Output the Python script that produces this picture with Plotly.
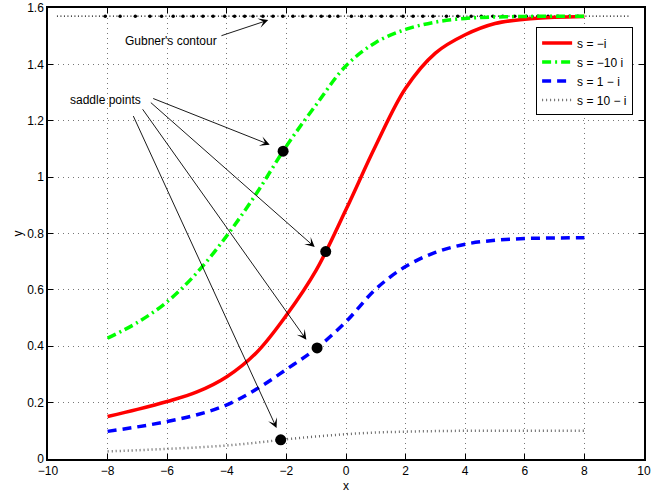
import plotly.graph_objects as go

# ---------------- data ----------------
x_vals = [-8, -7, -6, -5, -4, -3, -2, -1, 0, 1, 2, 3, 4, 5, 6, 7, 8]
y_s_minus_i = [0.151, 0.176, 0.204, 0.238, 0.292, 0.378, 0.510, 0.670, 0.885,
               1.112, 1.315, 1.440, 1.505, 1.545, 1.560, 1.567, 1.570]
y_s_minus_10i = [0.429, 0.484, 0.558, 0.661, 0.792, 0.943, 1.110, 1.257, 1.395,
                 1.478, 1.524, 1.550, 1.563, 1.568, 1.570, 1.571, 1.571]
y_s_1_minus_i = [0.098, 0.114, 0.133, 0.157, 0.192, 0.248, 0.318, 0.392, 0.487,
                 0.603, 0.683, 0.733, 0.762, 0.776, 0.782, 0.784, 0.785]
y_s_10_minus_i = [0.027, 0.031, 0.036, 0.041, 0.048, 0.058, 0.070, 0.080, 0.088,
                  0.094, 0.097, 0.099, 0.100, 0.100, 0.100, 0.100, 0.100]

series_names = ["s = −i", "s = −10 i", "s = 1 − i", "s = 10 − i"]

saddle_x = [-2.11, -0.68, -0.97, -2.19]
saddle_y = [1.092, 0.736, 0.394, 0.068]

gubner_line_x = [-9.7, 9.5]
gubner_line_y = [1.571, 1.571]
gubner_pts_x = [-8.08, -7.58, -7.07, -6.58, -6.19, -5.80, -5.47, -5.13, -4.80, -4.46,
                -4.07, -3.74, -3.40, -3.12, -2.79, -2.45, -2.12, -1.78, -1.45, -1.17,
                -0.83, -0.55, -0.27, 0.18, 0.52, 0.85, 1.19, 1.52, 1.91, 2.25, 2.58,
                2.92, 3.37, 3.75, 4.20, 4.54, 4.93, 5.26, 5.66, 6.05, 6.44, 6.78,
                7.11, 7.50, 7.78]
gubner_pts_y = [1.571] * len(gubner_pts_x)

x_ticks = [-10, -8, -6, -4, -2, 0, 2, 4, 6, 8, 10]
y_ticks = [0, 0.2, 0.4, 0.6, 0.8, 1, 1.2, 1.4, 1.6]

FONT = "Liberation Sans, Arial, Helvetica, sans-serif"

fig = go.Figure()

# Gubner's contour
fig.add_trace(go.Scatter(x=gubner_line_x, y=gubner_line_y, mode="lines",
                         line=dict(color="black", width=1.2, dash="1px,2.5px"),
                         showlegend=False, hoverinfo="skip"))
fig.add_trace(go.Scatter(x=gubner_pts_x, y=gubner_pts_y, mode="markers",
                         marker=dict(color="black", size=3.5),
                         showlegend=False, hoverinfo="skip"))

styles = [
    dict(color="#ff0000", width=3.5, dash="solid"),
    dict(color="#00ff00", width=3.5, dash="9px,4px,2px,4px"),
    dict(color="#0000ff", width=3.5, dash="9px,6px"),
    dict(color="#666666", width=2.5, dash="1px,3px"),
]
series = [y_s_minus_i, y_s_minus_10i, y_s_1_minus_i, y_s_10_minus_i]
for name, ys, st in zip(series_names, series, styles):
    fig.add_trace(go.Scatter(x=x_vals, y=ys, mode="lines", name=name,
                             line=dict(shape="spline", smoothing=1.0, **st)))

# saddle points
fig.add_trace(go.Scatter(x=saddle_x, y=saddle_y, mode="markers",
                         marker=dict(color="black", size=11),
                         showlegend=False, hoverinfo="skip"))

# annotations
arrow_common = dict(xref="x", yref="y", axref="x", ayref="y", text="",
                    showarrow=True, arrowhead=3, arrowsize=1.8, arrowwidth=0.9,
                    arrowcolor="black", standoff=0, startstandoff=0)
arrows = [
    ((-2.61, 1.557), (-4.23, 1.500)),
    ((-2.56, 1.115), (-6.52, 1.281)),
    ((-1.05, 0.752), (-6.60, 1.269)),
    ((-1.33, 0.423), (-6.86, 1.246)),
    ((-2.33, 0.110), (-7.16, 1.222)),
]
for (hx, hy), (tx, ty) in arrows:
    fig.add_annotation(x=hx, y=hy, ax=tx, ay=ty, **arrow_common)

fig.add_annotation(x=-5.87, y=1.484, text="Gubner's contour", showarrow=False,
                   font=dict(family=FONT, size=12, color="black"))
fig.add_annotation(x=-8.06, y=1.272, text="saddle points", showarrow=False,
                   font=dict(family=FONT, size=12, color="black"))

# axis titles
fig.add_annotation(xref="paper", yref="paper", x=0.5, y=0, yanchor="top", yshift=-18,
                   text="x", showarrow=False, font=dict(family=FONT, size=12, color="black"))
fig.add_annotation(xref="paper", yref="paper", x=0, y=0.5, xanchor="center", xshift=-31,
                   text="y", textangle=-90, showarrow=False,
                   font=dict(family=FONT, size=12, color="black"))

axis_common = dict(showline=True, linecolor="black", linewidth=1.5, mirror="ticks",
                   ticks="inside", ticklen=5, tickwidth=1, tickcolor="black",
                   showgrid=True, gridcolor="#777777", gridwidth=1, griddash="1px,4px",
                   zeroline=False, automargin=False,
                   tickfont=dict(family=FONT, size=12, color="black"))

fig.update_xaxes(range=[-10, 10], tickvals=x_ticks, **axis_common)
fig.update_yaxes(range=[0, 1.6], tickvals=y_ticks, **axis_common)

fig.update_layout(
    width=664, height=492,
    margin=dict(l=48, r=20, t=8, b=33, autoexpand=False),
    paper_bgcolor="white", plot_bgcolor="white",
    font=dict(family=FONT, size=12, color="black"),
    legend=dict(x=0.819, y=0.957, xanchor="left", yanchor="top",
                bgcolor="white", bordercolor="black", borderwidth=1,
                font=dict(family=FONT, size=12, color="black"),
                tracegroupgap=0, itemwidth=30),
)

fig.write_html(
    "out.html",
    config={"displayModeBar": False},
    post_script="document.body.style.margin='0';document.body.style.padding='0';",
)
